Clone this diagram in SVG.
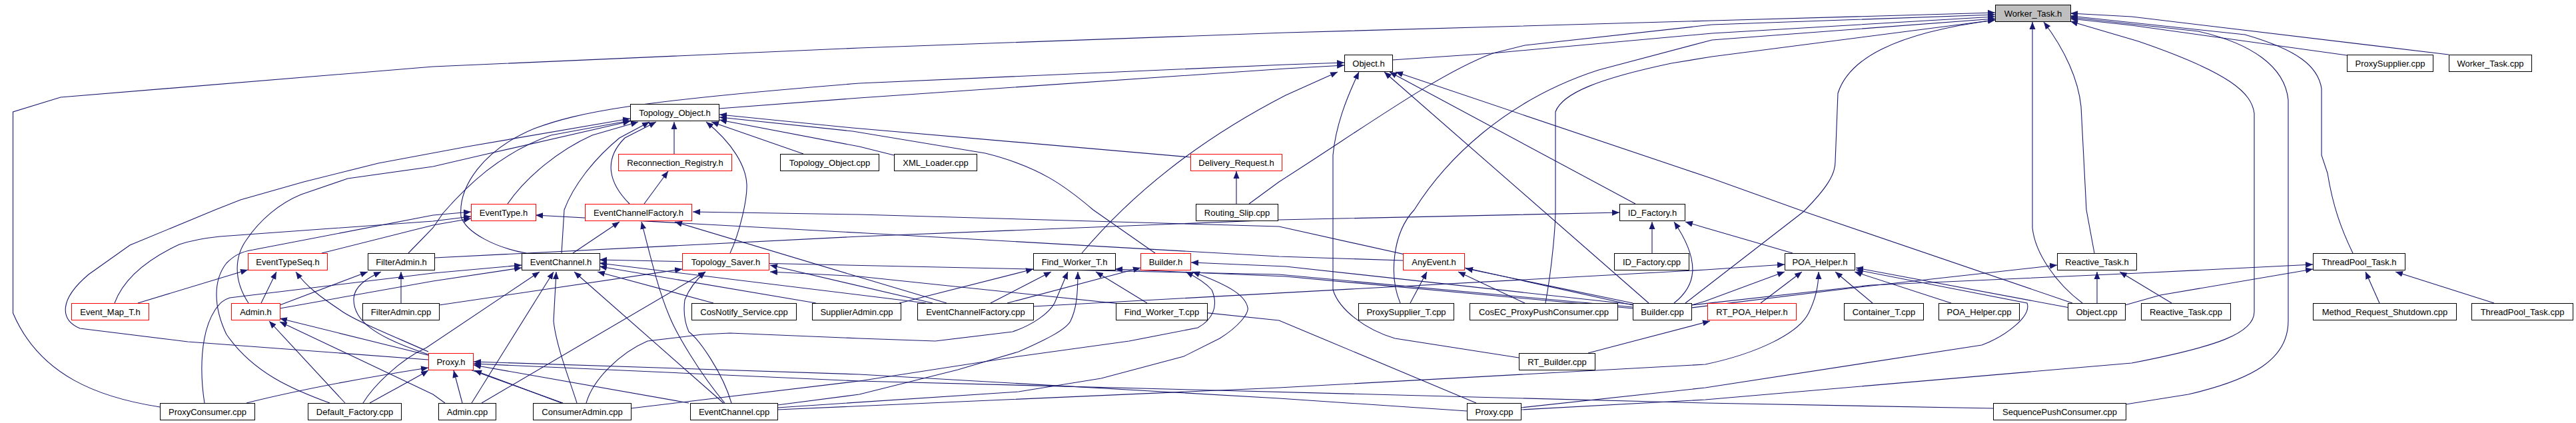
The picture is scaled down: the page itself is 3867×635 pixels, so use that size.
<svg xmlns="http://www.w3.org/2000/svg" width="3867" height="635" viewBox="0 0 3867 635">
<defs>
<marker id="a" markerUnits="userSpaceOnUse" markerWidth="12" markerHeight="10" refX="11" refY="5" orient="auto"><path d="M0,0.5 L11,5 L0,9.5 z" fill="#191970"/></marker>
<style>
.n rect{fill:#fff;stroke:#000;stroke-width:1}
.r rect{stroke:#ff0000}
.g rect{fill:#bfbfbf}
text{font-family:"Liberation Sans",Arial,Helvetica,sans-serif;font-size:13px;text-anchor:middle;fill:#000}
#edges path{fill:none;stroke:#191970;stroke-width:1.1;marker-end:url(#a)}
</style>
</defs>
<rect width="3867" height="635" fill="#fff"/>
<g id="edges">
<path d="M240,611 C150,597 60,565 19.5,470 L19.5,168 L91,146 L650,100 L1290,72 L1930,49 L2570,31 L2995,19"/>
<path d="M1875,306 L1920,273 C2050,190 2160,110 2241,80 L2289,68 L2570,37 L2995,22"/>
<path d="M2090,90 L2239,80 L2570,50 L2995,25"/>
<path d="M2102,455 C2085,415 2090,350 2123,315 C2170,240 2260,150 2400,105 L2570,60 L2995,28"/>
<path d="M2320,455 C2330,400 2335,340 2335,315 L2335,168 C2345,140 2400,118 2509,95 L2570,85 L2995,30"/>
<path d="M2530,455 L2707,318 C2745,280 2755,260 2755,243 L2759,140 C2775,90 2840,50 2995,30"/>
<path d="M3144,380 L3132,315 L3124,160 C3120,120 3100,75 3068,33"/>
<path d="M3126,455 C3086,425 3055,380 3051,342 L3051,33"/>
<path d="M3532,380 C3515,345 3502,310 3494,260 L3485,233 L3485,133 C3480,100 3450,75 3370,52 L3108,24"/>
<path d="M3676,82 L3200,25 L3108,20"/>
<path d="M3523,83 L3200,38 L3108,28"/>
<path d="M3191,607 L3285,592 C3380,570 3435,540 3435,482 L3435,150 C3430,100 3380,65 3300,47 L3108,26"/>
<path d="M2283,615 L2560,600 L3200,545 C3330,520 3384,500 3384,468 L3384,170 C3380,140 3350,110 3210,62 L3108,32"/>
<path d="M1079,163 L1290,147 L1930,103 L2018,98"/>
<path d="M790,380 C745,372 700,350 692,325 C688,280 725,225 802,193 C870,168 950,152 1290,125 L1930,97 L2018,94"/>
<path d="M1624,380 C1700,290 1800,210 1930,143 L2008,108"/>
<path d="M2280,537 L2094,508 C2050,495 2010,465 2001,435 L2001,233 C2005,190 2020,150 2040,108"/>
<path d="M2475,455 L2078,108"/>
<path d="M2455,306 L2086,108"/>
<path d="M3111,455 L2715,320 L2570,268 L2095,108"/>
<path d="M643,540 L282,513 L120,493 C90,480 88,450 133,412 L195,368 L323,315 L361,300 L456,273 L568,245 L702,220 L946,178"/>
<path d="M373,455 C350,420 352,385 370,360 C390,330 420,305 452,292 L522,268 L650,250 L723,233 L946,182"/>
<path d="M613,380 L650,342 L665,320 C700,280 750,230 827,203 L946,181"/>
<path d="M762,306 C790,265 840,225 889,203 L958,183"/>
<path d="M843,380 L847,315 C860,280 890,240 930,207 L975,183"/>
<path d="M945,306 C914,275 905,240 938,207 L985,183"/>
<path d="M1012,231 L1012,183"/>
<path d="M1096,380 C1110,350 1122,300 1121,277 C1120,250 1100,215 1060,183"/>
<path d="M1206,231 L1068,183"/>
<path d="M1342,233 L1290,220 L1080,180"/>
<path d="M1787,236 L1280,192 L1080,172"/>
<path d="M1734,380 L1641,315 C1600,280 1560,250 1479,230 L1280,197 L1080,176"/>
<path d="M967,306 L1003,257"/>
<path d="M1856,306 L1856,257"/>
<path d="M483,380 L650,338 L707,328"/>
<path d="M172,455 C185,420 220,390 269,367 C290,360 311,357 330,355 L650,332 L707,325"/>
<path d="M2106,391 L1920,385 L1300,350 L804,323"/>
<path d="M495,605 C440,585 380,560 340,502 C320,460 320,420 340,395 C350,385 360,378 380,375 L650,323 L707,318"/>
<path d="M860,380 L930,333"/>
<path d="M1421,455 L1280,413 L1013,333"/>
<path d="M1088,605 C1050,560 1015,500 1005,475 C990,440 980,400 963,333"/>
<path d="M2451,458 L1920,340 L1290,322 L1040,318"/>
<path d="M207,455 L372,405"/>
<path d="M392,455 L415,408"/>
<path d="M643,528 C580,500 530,480 510,465 C480,445 460,430 444,408"/>
<path d="M420,458 L552,408"/>
<path d="M643,532 C560,505 530,480 531,448 C532,430 550,418 572,408"/>
<path d="M602,455 L602,408"/>
<path d="M652,387 L1290,355 L1920,330 L2431,319"/>
<path d="M420,463 L650,422 L783,402"/>
<path d="M307,605 C300,560 300,500 323,465 C330,455 335,450 345,447 L650,410 L783,398"/>
<path d="M545,605 C560,580 600,540 640,522 L810,408"/>
<path d="M708,605 L831,408"/>
<path d="M866,605 C855,570 835,520 831,482 L835,408"/>
<path d="M1086,605 L862,408"/>
<path d="M1071,455 L897,408"/>
<path d="M1225,455 L900,400"/>
<path d="M1390,455 L900,395"/>
<path d="M2451,461 L1920,412 L900,390"/>
<path d="M659,458 L1024,404"/>
<path d="M723,605 L1059,408"/>
<path d="M1098,605 C1085,560 1050,510 1034,498 C1026,480 1026,465 1028,450 C1035,432 1045,420 1059,408"/>
<path d="M1400,455 L1156,398"/>
<path d="M2216,605 L1920,481 L1290,415 L1156,408"/>
<path d="M1487,455 L1578,408"/>
<path d="M1350,455 L1551,404"/>
<path d="M880,605 C890,570 930,530 972,512 L1055,502 L1096,500 L1290,508 L1404,512 L1520,498 C1550,488 1575,470 1583,455 L1603,408"/>
<path d="M1167,608 L1290,592 L1438,555 L1529,528 C1570,510 1600,495 1607,482 C1615,465 1618,448 1618,408"/>
<path d="M1722,455 L1645,408"/>
<path d="M2451,463 L1930,415 L1674,404"/>
<path d="M1512,455 L1712,402"/>
<path d="M2451,457 L1930,400 L1788,394"/>
<path d="M947,613 L1290,572 L1529,535 L1695,512 L1798,492 C1820,480 1830,460 1819,435 C1810,425 1800,418 1780,408"/>
<path d="M1167,612 L1529,588 L1653,568 L1777,535 L1831,508 C1860,490 1875,470 1873,462 C1870,445 1850,430 1790,408"/>
<path d="M2117,455 L2142,408"/>
<path d="M2289,455 L2189,408"/>
<path d="M2451,455 L2200,403"/>
<path d="M2480,380 L2480,333"/>
<path d="M2513,455 C2545,430 2555,395 2513,333"/>
<path d="M2691,380 L2560,342 L2530,333"/>
<path d="M2643,455 L2705,408"/>
<path d="M2811,455 L2755,408"/>
<path d="M2929,455 L2784,408"/>
<path d="M3107,462 L2786,402"/>
<path d="M2283,612 L2560,582 L2975,518 C3010,505 3050,475 3043,455 L2786,405"/>
<path d="M1167,615 L1920,582 L2560,547 C2640,530 2700,500 2715,470 C2725,450 2730,430 2730,408"/>
<path d="M2539,458 L2560,452 L2679,408"/>
<path d="M1551,460 L2560,405 L2679,397"/>
<path d="M3148,455 L3148,408"/>
<path d="M3260,455 L3182,408"/>
<path d="M2539,462 L2800,430 L3088,398"/>
<path d="M3572,455 L3551,408"/>
<path d="M3744,455 L3596,408"/>
<path d="M2539,458 L2809,428 L3210,410 L3472,397"/>
<path d="M3190,458 L3243,443 L3472,404"/>
<path d="M2384,530 L2567,482"/>
<path d="M518,605 L404,482"/>
<path d="M668,605 L650,592 L420,483"/>
<path d="M845,605 L720,560 L650,535 L420,478"/>
<path d="M370,605 C450,585 560,565 643,552"/>
<path d="M555,605 C590,585 620,570 643,556"/>
<path d="M694,605 L681,556"/>
<path d="M843,605 L712,556"/>
<path d="M1034,605 L711,548"/>
<path d="M2202,617 L1920,598 L1290,562 L711,543"/>
<path d="M2992,613 L2560,605 L1290,572 L711,546"/>
</g>
<g id="n_worker_task_h" class="n g"><rect x="2995.5" y="7.5" width="113" height="25"/><text x="3052" y="24.5">Worker_Task.h</text></g>
<g id="n_object_h" class="n"><rect x="2018.5" y="82.5" width="72" height="25"/><text x="2054.5" y="99.5">Object.h</text></g>
<g id="n_proxysupplier_cpp" class="n"><rect x="3523.5" y="82.5" width="129" height="25"/><text x="3588" y="99.5">ProxySupplier.cpp</text></g>
<g id="n_worker_task_cpp" class="n"><rect x="3676.5" y="82.5" width="124" height="25"/><text x="3738.5" y="99.5">Worker_Task.cpp</text></g>
<g id="n_topology_object_h" class="n"><rect x="946.5" y="156.5" width="133" height="25"/><text x="1013" y="173.5">Topology_Object.h</text></g>
<g id="n_reconnection_registry_h" class="n r"><rect x="928.5" y="231.5" width="170" height="25"/><text x="1013.5" y="248.5">Reconnection_Registry.h</text></g>
<g id="n_topology_object_cpp" class="n"><rect x="1171.5" y="231.5" width="148" height="25"/><text x="1245.5" y="248.5">Topology_Object.cpp</text></g>
<g id="n_xml_loader_cpp" class="n"><rect x="1342.5" y="231.5" width="124" height="25"/><text x="1404.5" y="248.5">XML_Loader.cpp</text></g>
<g id="n_delivery_request_h" class="n r"><rect x="1787.5" y="231.5" width="137" height="25"/><text x="1856" y="248.5">Delivery_Request.h</text></g>
<g id="n_eventtype_h" class="n r"><rect x="707.5" y="306.5" width="97" height="25"/><text x="756" y="323.5">EventType.h</text></g>
<g id="n_eventchannelfactory_h" class="n r"><rect x="878.5" y="306.5" width="160" height="25"/><text x="958.5" y="323.5">EventChannelFactory.h</text></g>
<g id="n_routing_slip_cpp" class="n"><rect x="1795.5" y="306.5" width="123" height="25"/><text x="1857" y="323.5">Routing_Slip.cpp</text></g>
<g id="n_id_factory_h" class="n"><rect x="2431.5" y="306.5" width="98" height="25"/><text x="2480.5" y="323.5">ID_Factory.h</text></g>
<g id="n_eventtypeseq_h" class="n r"><rect x="372.5" y="380.5" width="119" height="25"/><text x="432" y="397.5">EventTypeSeq.h</text></g>
<g id="n_filteradmin_h" class="n"><rect x="552.5" y="380.5" width="100" height="25"/><text x="602.5" y="397.5">FilterAdmin.h</text></g>
<g id="n_eventchannel_h" class="n"><rect x="783.5" y="380.5" width="117" height="25"/><text x="842" y="397.5">EventChannel.h</text></g>
<g id="n_topology_saver_h" class="n r"><rect x="1024.5" y="380.5" width="130" height="25"/><text x="1089.5" y="397.5">Topology_Saver.h</text></g>
<g id="n_find_worker_t_h" class="n"><rect x="1551.5" y="380.5" width="123" height="25"/><text x="1613" y="397.5">Find_Worker_T.h</text></g>
<g id="n_builder_h" class="n r"><rect x="1712.5" y="380.5" width="75" height="25"/><text x="1750" y="397.5">Builder.h</text></g>
<g id="n_anyevent_h" class="n r"><rect x="2106.5" y="380.5" width="92" height="25"/><text x="2152.5" y="397.5">AnyEvent.h</text></g>
<g id="n_id_factory_cpp" class="n"><rect x="2423.5" y="380.5" width="112" height="25"/><text x="2479.5" y="397.5">ID_Factory.cpp</text></g>
<g id="n_poa_helper_h" class="n"><rect x="2679.5" y="380.5" width="105" height="25"/><text x="2732" y="397.5">POA_Helper.h</text></g>
<g id="n_reactive_task_h" class="n"><rect x="3088.5" y="380.5" width="119" height="25"/><text x="3148" y="397.5">Reactive_Task.h</text></g>
<g id="n_threadpool_task_h" class="n"><rect x="3472.5" y="380.5" width="138" height="25"/><text x="3541.5" y="397.5">ThreadPool_Task.h</text></g>
<g id="n_event_map_t_h" class="n r"><rect x="107.5" y="455.5" width="116" height="25"/><text x="165.5" y="472.5">Event_Map_T.h</text></g>
<g id="n_admin_h" class="n r"><rect x="347.5" y="455.5" width="73" height="25"/><text x="384" y="472.5">Admin.h</text></g>
<g id="n_filteradmin_cpp" class="n"><rect x="544.5" y="455.5" width="115" height="25"/><text x="602" y="472.5">FilterAdmin.cpp</text></g>
<g id="n_cosnotify_service_cpp" class="n"><rect x="1038.5" y="455.5" width="157" height="25"/><text x="1117" y="472.5">CosNotify_Service.cpp</text></g>
<g id="n_supplieradmin_cpp" class="n"><rect x="1219.5" y="455.5" width="133" height="25"/><text x="1286" y="472.5">SupplierAdmin.cpp</text></g>
<g id="n_eventchannelfactory_cpp" class="n"><rect x="1377.5" y="455.5" width="174" height="25"/><text x="1464.5" y="472.5">EventChannelFactory.cpp</text></g>
<g id="n_find_worker_t_cpp" class="n"><rect x="1675.5" y="455.5" width="137" height="25"/><text x="1744" y="472.5">Find_Worker_T.cpp</text></g>
<g id="n_proxysupplier_t_cpp" class="n"><rect x="2039.5" y="455.5" width="143" height="25"/><text x="2111" y="472.5">ProxySupplier_T.cpp</text></g>
<g id="n_cosec_proxypushconsumer_cpp" class="n"><rect x="2206.5" y="455.5" width="222" height="25"/><text x="2317.5" y="472.5">CosEC_ProxyPushConsumer.cpp</text></g>
<g id="n_builder_cpp" class="n"><rect x="2451.5" y="455.5" width="88" height="25"/><text x="2495.5" y="472.5">Builder.cpp</text></g>
<g id="n_rt_poa_helper_h" class="n r"><rect x="2563.5" y="455.5" width="133" height="25"/><text x="2630" y="472.5">RT_POA_Helper.h</text></g>
<g id="n_container_t_cpp" class="n"><rect x="2768.5" y="455.5" width="119" height="25"/><text x="2828" y="472.5">Container_T.cpp</text></g>
<g id="n_poa_helper_cpp" class="n"><rect x="2910.5" y="455.5" width="121" height="25"/><text x="2971" y="472.5">POA_Helper.cpp</text></g>
<g id="n_object_cpp" class="n"><rect x="3104.5" y="455.5" width="86" height="25"/><text x="3147.5" y="472.5">Object.cpp</text></g>
<g id="n_reactive_task_cpp" class="n"><rect x="3214.5" y="455.5" width="134" height="25"/><text x="3281.5" y="472.5">Reactive_Task.cpp</text></g>
<g id="n_method_request_shutdown_cpp" class="n"><rect x="3472.5" y="455.5" width="215" height="25"/><text x="3580" y="472.5">Method_Request_Shutdown.cpp</text></g>
<g id="n_threadpool_task_cpp" class="n"><rect x="3710.5" y="455.5" width="152" height="25"/><text x="3786.5" y="472.5">ThreadPool_Task.cpp</text></g>
<g id="n_proxy_h" class="n r"><rect x="643.5" y="530.5" width="67" height="25"/><text x="677" y="547.5">Proxy.h</text></g>
<g id="n_rt_builder_cpp" class="n"><rect x="2280.5" y="530.5" width="114" height="25"/><text x="2337.5" y="547.5">RT_Builder.cpp</text></g>
<g id="n_proxyconsumer_cpp" class="n"><rect x="240.5" y="605.5" width="142" height="25"/><text x="311.5" y="622.5">ProxyConsumer.cpp</text></g>
<g id="n_default_factory_cpp" class="n"><rect x="462.5" y="605.5" width="140" height="25"/><text x="532.5" y="622.5">Default_Factory.cpp</text></g>
<g id="n_admin_cpp" class="n"><rect x="658.5" y="605.5" width="86" height="25"/><text x="701.5" y="622.5">Admin.cpp</text></g>
<g id="n_consumeradmin_cpp" class="n"><rect x="800.5" y="605.5" width="147" height="25"/><text x="874" y="622.5">ConsumerAdmin.cpp</text></g>
<g id="n_eventchannel_cpp" class="n"><rect x="1036.5" y="605.5" width="131" height="25"/><text x="1102" y="622.5">EventChannel.cpp</text></g>
<g id="n_proxy_cpp" class="n"><rect x="2202.5" y="605.5" width="81" height="25"/><text x="2243" y="622.5">Proxy.cpp</text></g>
<g id="n_sequencepushconsumer_cpp" class="n"><rect x="2992.5" y="605.5" width="199" height="25"/><text x="3092" y="622.5">SequencePushConsumer.cpp</text></g>
</svg>
